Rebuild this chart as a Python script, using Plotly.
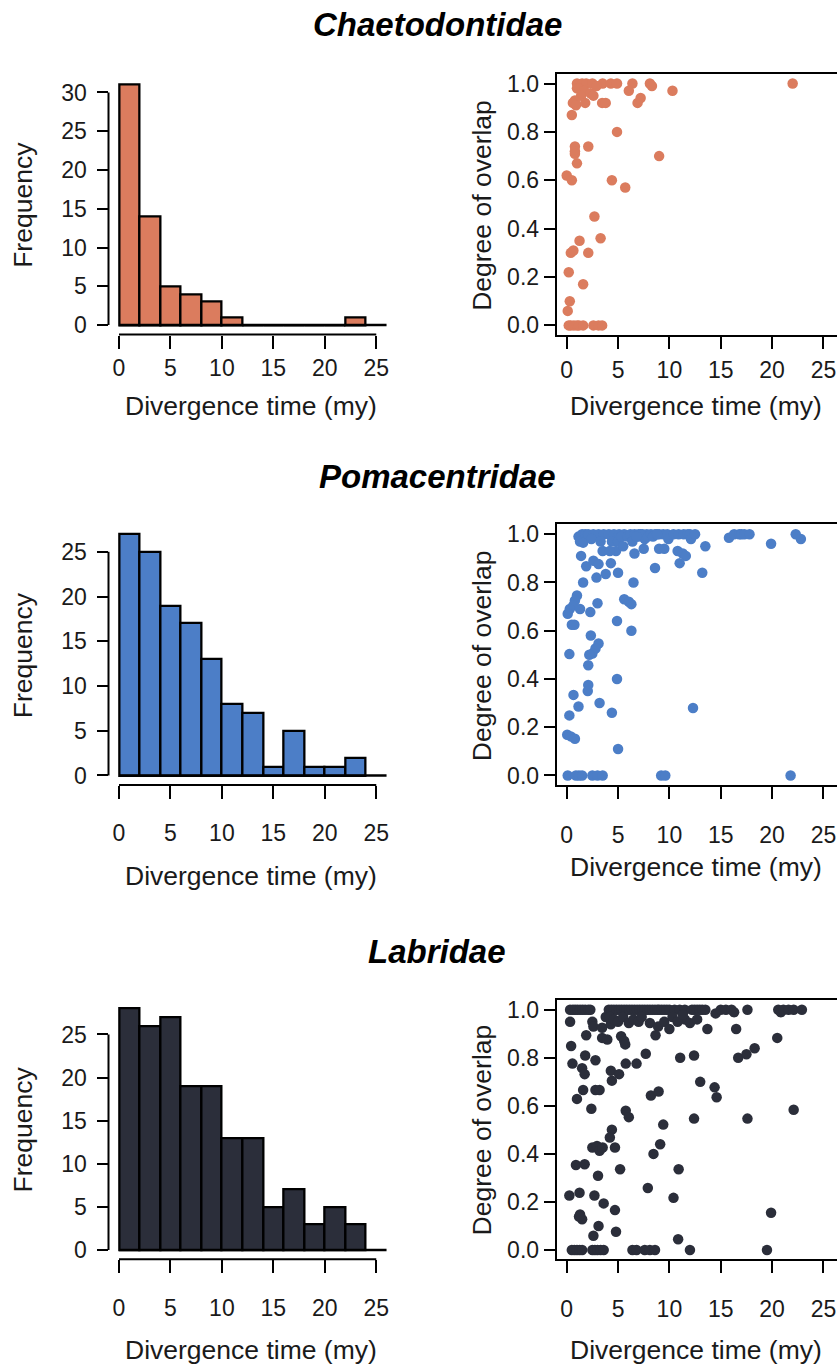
import plotly.graph_objects as go

W, H = 837, 1370

# ---------------- data ----------------
families = ["Chaetodontidae", "Pomacentridae", "Labridae"]
bin_mids = [1, 3, 5, 7, 9, 11, 13, 15, 17, 19, 21, 23]
chaeto_freq = [31, 14, 5, 4, 3, 1, 0, 0, 0, 0, 0, 1]
poma_freq = [27, 25, 19, 17, 13, 8, 7, 1, 5, 1, 1, 2]
labri_freq = [28, 26, 27, 19, 19, 13, 13, 5, 7, 3, 5, 3]

chaeto_time = [
    1.0, 1.5, 1.9, 1.0, 1.2, 1.7, 1.4, 0.8, 0.6, 0.9, 1.8, 0.5,
    0.8, 0.8, 0.8, 1.0, 0.0, 0.5, 1.25, 0.4, 0.65, 0.2, 1.6, 0.3, 0.1,
    0.2, 0.4, 0.7, 1.0, 1.2, 1.6,
    2.5, 3.5, 2.3, 2.6, 3.45, 3.8, 2.1, 2.7, 3.3, 2.1, 2.6, 3.1, 3.45, 2.9,
    4.3, 4.9, 4.9, 4.4, 5.7,
    6.4, 6.05, 6.9, 7.2,
    8.1, 8.3, 9.0,
    10.3,
    22.0,
]
chaeto_overlap = [
    1.0, 1.0, 1.0, 0.98, 0.98, 0.97, 0.95, 0.93, 0.92, 0.91, 0.92, 0.87,
    0.74, 0.72, 0.71, 0.67, 0.62, 0.60, 0.35, 0.30, 0.31, 0.22, 0.17, 0.10, 0.06,
    0.0, 0.0, 0.0, 0.0, 0.0, 0.0,
    1.0, 1.0, 0.96, 0.95, 0.92, 0.92, 0.74, 0.45, 0.36, 0.30, 0.0, 0.0, 0.0, 0.99,
    1.0, 1.0, 0.80, 0.60, 0.57,
    1.0, 0.97, 0.92, 0.94,
    1.0, 0.99, 0.70,
    0.97,
    1.0,
]

poma_time = [
    1.15, 1.5, 1.8, 1.3, 1.6, 1.4, 1.6, 1.0, 0.8, 0.65, 0.3, 0.1, 1.3, 0.5, 0.75,
    0.26, 0.66, 1.15, 0.26, 0.05, 0.4, 0.8, 0.1, 0.9, 1.2, 1.5, 1.9,
    2.1, 2.6, 3.1, 3.6, 2.4, 3.3, 3.5, 2.6, 3.1, 2.9, 3.8, 3.0, 2.3, 2.35, 3.1,
    2.8, 2.5, 2.2, 2.1, 2.1, 2.05, 3.2, 2.5, 3.0, 3.5,
    4.1, 4.6, 5.1, 5.6, 4.4, 5.0, 4.8, 4.3, 5.0, 5.6, 4.9, 4.9, 4.4, 5.0, 5.3,
    4.2, 5.5, 5.9,
    6.2, 6.6, 7.0, 7.4, 7.8, 6.4, 7.0, 7.6, 7.5, 6.6, 6.5, 6.05, 6.3, 6.3, 7.2,
    6.8, 7.9,
    8.2, 8.6, 9.0, 9.4, 9.8, 8.4, 9.0, 9.5, 8.6, 9.2, 9.6, 9.9, 8.8,
    10.4, 10.9, 11.4, 11.8, 10.8, 11.3, 11.6, 11.0,
    12.0, 12.1, 13.5, 13.2, 12.3, 12.5,
    15.8,
    16.3, 16.8, 17.0, 17.3, 17.8,
    19.9,
    21.8,
    22.3, 22.8,
]
poma_overlap = [
    0.99, 1.0, 1.0, 0.97, 0.965, 0.91, 0.80, 0.746, 0.725, 0.705, 0.69, 0.67, 0.69, 0.625, 0.625,
    0.503, 0.334, 0.286, 0.249, 0.169, 0.162, 0.152, 0.0, 0.0, 0.0, 0.0, 0.867,
    1.0, 1.0, 1.0, 1.0, 0.98, 0.97, 0.93, 0.89, 0.876, 0.82, 0.835, 0.714, 0.677, 0.58, 0.547,
    0.526, 0.505, 0.50, 0.457, 0.375, 0.35, 0.30, 0.0, 0.0, 0.0,
    1.0, 1.0, 1.0, 1.0, 0.97, 0.97, 0.93, 0.88, 0.84, 0.73, 0.64, 0.40, 0.26, 0.11, 0.99,
    0.93, 0.95, 0.99,
    1.0, 1.0, 1.0, 1.0, 1.0, 0.97, 0.99, 0.98, 0.94, 0.92, 0.80, 0.72, 0.71, 0.60, 1.0,
    0.99, 0.99,
    1.0, 1.0, 1.0, 1.0, 1.0, 0.99, 0.94, 0.94, 0.86, 0.0, 0.0, 0.98, 1.0,
    1.0, 1.0, 1.0, 1.0, 0.93, 0.92, 0.91, 0.88,
    1.0, 0.98, 0.95, 0.84, 0.28, 1.0,
    0.985,
    1.0, 1.0, 1.0, 1.0, 1.0,
    0.96,
    0.0,
    1.0, 0.98,
]

labri_time = [
    0.33, 0.6, 0.82, 1.05, 1.3, 1.55, 1.8,
    0.33, 1.9, 0.43, 1.8, 0.56, 1.5, 1.75, 1.6, 1.0, 0.9, 1.75, 0.26, 1.25, 1.3, 1.5, 1.2,
    0.5, 0.75, 1.0, 1.25, 1.5,
    2.1, 2.3, 2.5, 2.6, 3.45, 3.8, 3.45, 3.95, 2.8, 2.8, 3.2, 2.4, 2.5, 2.95, 3.2, 3.5,
    3.05, 2.7, 3.6, 3.1, 2.6,
    2.5, 2.75, 3.0, 3.3, 3.6,
    4.1, 4.35, 4.6, 4.85, 5.1, 5.35, 5.6, 5.85,
    4.3, 5.3, 5.6, 5.7, 5.75, 4.3, 5.1, 4.4, 5.75, 4.4, 4.2, 4.7, 5.2, 4.7, 4.8,
    4.2, 4.6, 5.0, 5.5,
    6.1, 6.35, 6.6, 6.85, 7.1, 7.35, 7.6, 7.85,
    6.05, 6.8, 6.05, 7.7, 7.9, 6.5, 7.0, 7.3,
    6.4, 6.8, 7.6,
    8.1, 8.35, 8.6, 8.85, 9.0, 9.25, 9.5, 9.75,
    8.1, 8.9, 9.5, 8.65, 8.2, 8.95, 9.4, 9.1, 8.45,
    8.1, 8.6,
    10.0, 10.5, 11.0, 11.5,
    10.0, 11.05, 10.9, 10.4, 10.85, 11.5, 10.3, 10.8, 11.3,
    12.2, 12.45, 12.7, 12.95, 13.2, 13.5,
    12.0, 12.7, 13.7, 12.4, 13.0, 12.4, 12.0,
    14.5, 15.0, 15.5, 14.4, 14.6,
    16.05, 16.3, 17.6, 16.5, 16.7, 17.5, 17.6,
    18.3, 19.9, 19.5,
    20.6, 20.85, 21.1, 21.6, 20.5,
    22.1, 22.9, 22.1,
]
labri_overlap = [
    1.0, 1.0, 1.0, 1.0, 1.0, 1.0, 1.0,
    0.95, 0.894, 0.849, 0.81, 0.776, 0.757, 0.732, 0.666, 0.629, 0.354, 0.357, 0.227, 0.238, 0.148, 0.128, 0.139,
    0.0, 0.0, 0.0, 0.0, 0.0,
    1.0, 1.0, 0.95, 0.93, 0.925, 0.97, 0.883, 0.876, 0.79, 0.666, 0.666, 0.588, 0.427, 0.433, 0.413, 0.427,
    0.309, 0.227, 0.194, 0.10, 0.059,
    0.0, 0.0, 0.0, 0.0, 0.0,
    1.0, 1.0, 1.0, 1.0, 1.0, 1.0, 1.0, 1.0,
    0.94, 0.89, 0.87, 0.856, 0.776, 0.746, 0.732, 0.705, 0.58, 0.501, 0.468, 0.427, 0.336, 0.166, 0.076,
    0.97, 0.96, 0.95, 0.97,
    1.0, 1.0, 1.0, 1.0, 1.0, 1.0, 1.0, 1.0,
    0.945, 0.776, 0.553, 0.817, 0.258, 0.96, 0.95, 0.97,
    0.0, 0.0, 0.0,
    1.0, 1.0, 1.0, 1.0, 1.0, 1.0, 1.0, 1.0,
    0.945, 0.93, 0.95, 0.894, 0.643, 0.66, 0.522, 0.44, 0.40,
    0.0, 0.0,
    1.0, 1.0, 1.0, 1.0,
    0.92, 0.80, 0.336, 0.217, 0.045, 0.96, 0.97, 0.95, 0.98,
    1.0, 1.0, 1.0, 1.0, 1.0, 1.0,
    0.945, 0.96, 0.92, 0.81, 0.70, 0.547, 0.0,
    0.985, 1.0, 1.0, 0.677, 0.636,
    1.0, 0.99, 1.0, 0.92, 0.80, 0.815, 0.547,
    0.84, 0.155, 0.0,
    1.0, 0.99, 1.0, 1.0, 0.883,
    1.0, 1.0, 0.584,
]

time_ticks = [0, 5, 10, 15, 20, 25]
overlap_ticks = [0.0, 0.2, 0.4, 0.6, 0.8, 1.0]
overlap_ticktext = ["0.0", "0.2", "0.4", "0.6", "0.8", "1.0"]
freq_ticks = [[0, 5, 10, 15, 20, 25, 30], [0, 5, 10, 15, 20, 25], [0, 5, 10, 15, 20, 25]]

freqs = [chaeto_freq, poma_freq, labri_freq]
times = [chaeto_time, poma_time, labri_time]
overlaps = [chaeto_overlap, poma_overlap, labri_overlap]
colors = ["#DB7C5E", "#4C7EC7", "#2B2E3A"]

# ---------------- layout anchors (pixels) ----------------
FONT = "Liberation Sans, Arial, Helvetica, sans-serif"
TEXT_COLOR = "#1a1a1a"
TICK_FS = 23
LAB_FS = 26.5
TITLE_FS = 33

def fx(px):
    return px / W

def fy(py):
    return 1 - py / H

rows = [
    dict(hist_top=72, axis_y=332.5, zero_y=323, ppu=7.8, box_top=70.7, sc_y1=80.0, sc_y0=323.3,
         title_y=21, tick_y=365, xt_y=404, sc_xt_y=404, mid=202),
    dict(hist_top=520, axis_y=785.5, zero_y=776, ppu=9.0, box_top=523.3, sc_y1=533.3, sc_y0=776.0,
         title_y=475, tick_y=832, xt_y=877, sc_xt_y=868, mid=655),
    dict(hist_top=995, axis_y=1262.7, zero_y=1253.3, ppu=8.67, box_top=1001.7, sc_y1=1011.7, sc_y0=1253.3,
         title_y=953, tick_y=1310, xt_y=1354, sc_xt_y=1354, mid=1132),
]

H_AX_X, H_X0, H_PPU, H_RIGHT = 108.5, 119.0, 10.29, 398.0
S_LEFT, S_X0, S_PPU, S_RIGHT = 556.7, 566.7, 10.27, 837.0
LABEL_PAD = 19

fig = go.Figure()
layout = dict(
    width=W, height=H, margin=dict(l=0, r=0, t=0, b=0),
    paper_bgcolor="white", plot_bgcolor="white", showlegend=False,
    font=dict(family=FONT, color=TEXT_COLOR), bargap=0,
)
shapes = []
annotations = []

for i in range(3):
    r = rows[i]
    hx = "x" if i == 0 else f"x{2 * i + 1}"
    hy = "y" if i == 0 else f"y{2 * i + 1}"
    sx = f"x{2 * i + 2}"
    sy = f"y{2 * i + 2}"
    hxk = "xaxis" if i == 0 else f"xaxis{2 * i + 1}"
    hyk = "yaxis" if i == 0 else f"yaxis{2 * i + 1}"
    sxk = f"xaxis{2 * i + 2}"
    syk = f"yaxis{2 * i + 2}"

    # histogram
    fig.add_trace(go.Bar(
        x=bin_mids, y=freqs[i], width=2, xaxis=hx, yaxis=hy,
        marker=dict(color=colors[i], line=dict(color="black", width=2.3)),
    ))
    y_bottom = (r["zero_y"] - r["axis_y"]) / r["ppu"]
    y_top = (r["zero_y"] - r["hist_top"]) / r["ppu"]
    layout[hxk] = dict(
        domain=[fx(H_AX_X), fx(H_RIGHT)], anchor=hy,
        range=[(H_AX_X - H_X0) / H_PPU, (H_RIGHT - H_X0) / H_PPU],
        showgrid=False, zeroline=False, showline=False,
        tickmode="array", tickvals=time_ticks, ticks="outside", ticklen=13, tickwidth=2,
        tickcolor="black", tickfont=dict(size=TICK_FS, family=FONT, color=TEXT_COLOR),
        ticklabelstandoff=int(round(r["tick_y"] - r["axis_y"] - 13 - LABEL_PAD)),
    )
    layout[hyk] = dict(
        domain=[fy(r["axis_y"]), fy(r["hist_top"])], anchor=hx,
        range=[y_bottom, y_top],
        showgrid=False, zeroline=False, showline=False,
        tickmode="array", tickvals=freq_ticks[i], ticks="outside", ticklen=11, tickwidth=2,
        tickcolor="black", tickfont=dict(size=TICK_FS, family=FONT, color=TEXT_COLOR),
        ticklabelstandoff=5,
    )
    # R-style axis lines and baseline
    shapes.append(dict(type="line", xref=hx, yref=f"{hy} domain", x0=0, x1=25, y0=0, y1=0,
                       line=dict(color="black", width=2)))
    shapes.append(dict(type="line", xref=f"{hx} domain", yref=hy, x0=0, x1=0, y0=0,
                       y1=freq_ticks[i][-1], line=dict(color="black", width=2)))
    shapes.append(dict(type="line", xref=hx, yref=hy, x0=0, x1=26, y0=0, y1=0,
                       line=dict(color="black", width=2.5)))

    # scatter
    fig.add_trace(go.Scatter(
        x=times[i], y=overlaps[i], mode="markers", xaxis=sx, yaxis=sy,
        marker=dict(color=colors[i], size=10.5, line=dict(width=0)),
    ))
    sppu_y = (r["sc_y0"] - r["sc_y1"])
    layout[sxk] = dict(
        domain=[fx(S_LEFT), fx(S_RIGHT)], anchor=sy,
        range=[(S_LEFT - S_X0) / S_PPU, (S_RIGHT - S_X0) / S_PPU],
        showgrid=False, zeroline=False, showline=True, linecolor="black", linewidth=2,
        mirror=True,
        tickmode="array", tickvals=time_ticks, ticks="outside", ticklen=12, tickwidth=2,
        tickcolor="black", tickfont=dict(size=TICK_FS, family=FONT, color=TEXT_COLOR),
        ticklabelstandoff=int(round(r["tick_y"] - r["axis_y"] - 12 - LABEL_PAD)),
    )
    layout[syk] = dict(
        domain=[fy(r["axis_y"]), fy(r["box_top"])], anchor=sx,
        range=[(r["sc_y0"] - r["axis_y"]) / sppu_y, (r["sc_y0"] - r["box_top"]) / sppu_y],
        showgrid=False, zeroline=False, showline=True, linecolor="black", linewidth=2,
        tickmode="array", tickvals=overlap_ticks, ticktext=overlap_ticktext,
        ticks="outside", ticklen=11, tickwidth=2,
        tickcolor="black", tickfont=dict(size=TICK_FS, family=FONT, color=TEXT_COLOR),
        ticklabelstandoff=0,
    )

    # texts
    annotations.append(dict(text=f"<b><i>{families[i]}</i></b>", x=fx(437), y=fy(r["title_y"]),
                            xref="paper", yref="paper", showarrow=False, xanchor="center",
                            yanchor="middle", font=dict(size=TITLE_FS, family=FONT, color="black")))
    annotations.append(dict(text="Divergence time (my)", x=fx(251), y=fy(r["xt_y"]),
                            xref="paper", yref="paper", showarrow=False, xanchor="center",
                            yanchor="middle", font=dict(size=LAB_FS, family=FONT, color=TEXT_COLOR)))
    annotations.append(dict(text="Divergence time (my)", x=fx(696), y=fy(r["sc_xt_y"]),
                            xref="paper", yref="paper", showarrow=False, xanchor="center",
                            yanchor="middle", font=dict(size=LAB_FS, family=FONT, color=TEXT_COLOR)))
    annotations.append(dict(text="Frequency", x=fx(23), y=fy(r["mid"]), textangle=-90,
                            xref="paper", yref="paper", showarrow=False, xanchor="center",
                            yanchor="middle", font=dict(size=LAB_FS, family=FONT, color=TEXT_COLOR)))
    annotations.append(dict(text="Degree of overlap", x=fx(482), y=fy(r["mid"]), textangle=-90,
                            xref="paper", yref="paper", showarrow=False, xanchor="center",
                            yanchor="middle", font=dict(size=LAB_FS, family=FONT, color=TEXT_COLOR)))

layout["shapes"] = shapes
layout["annotations"] = annotations
fig.update_layout(**layout)
fig.write_html("out.html", config={"displayModeBar": False},
               post_script="document.body.style.margin='0px';")
